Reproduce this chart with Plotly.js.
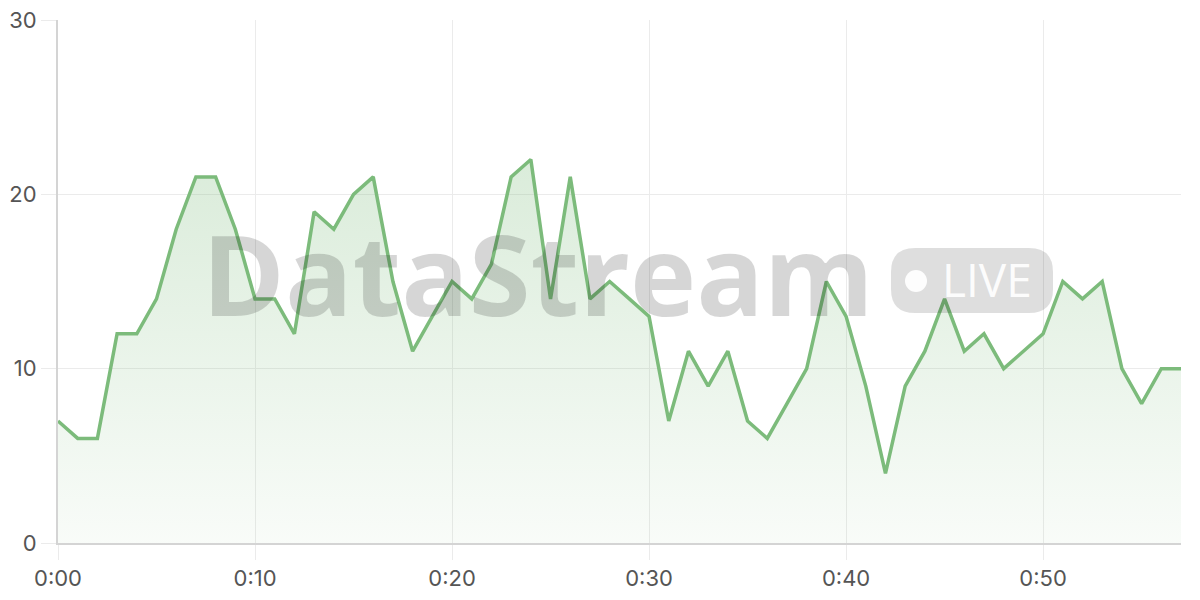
<!DOCTYPE html>
<html><head><meta charset="utf-8">
<script src="https://cdn.plot.ly/plotly-3.0.1.min.js"></script>
<style>html,body{margin:0;padding:0;background:#fff}#chart{width:1200px;height:600px}</style>
</head><body><div id="chart"></div>
<script>
const minutes = [0,1,2,3,4,5,6,7,8,9,10,11,12,13,14,15,16,17,18,19,20,21,22,23,24,25,26,27,28,29,30,31,32,33,34,35,36,37,38,39,40,41,42,43,44,45,46,47,48,49,50,51,52,53,54,55,56,57];
const values = [7,6,6,12,12,14,18,21,21,18,14,14,12,19,18,20,21,15,11,13,15,14,16,21,22,14,21,14,15,14,13,7,11,9,11,7,6,8,10,15,13,9,4,9,11,14,11,12,10,11,12,15,14,15,10,8,10,10];
const tickVals = [0,10,20,30,40,50];
const tickText = ["0:00","0:10","0:20","0:30","0:40","0:50"];
const watermark = "DataStream";
const badge = "LIVE";

// pixel -> paper helpers for the decorative watermark
const PL = 58, PW = 1123, PB = 543, PH = 523;
const px = v => (v - PL) / PW;
const py = v => (PB - v) / PH;
function roundRect(x0, y0, x1, y1, r) {
  const X = px, Y = py;
  return `M ${X(x0 + r)} ${Y(y0)} L ${X(x1 - r)} ${Y(y0)} Q ${X(x1)} ${Y(y0)} ${X(x1)} ${Y(y0 + r)} ` +
         `L ${X(x1)} ${Y(y1 - r)} Q ${X(x1)} ${Y(y1)} ${X(x1 - r)} ${Y(y1)} ` +
         `L ${X(x0 + r)} ${Y(y1)} Q ${X(x0)} ${Y(y1)} ${X(x0)} ${Y(y1 - r)} ` +
         `L ${X(x0)} ${Y(y0 + r)} Q ${X(x0)} ${Y(y0)} ${X(x0 + r)} ${Y(y0)} Z`;
}

const trace = {
  x: minutes, y: values, type: 'scatter', mode: 'lines',
  line: {color: '#7cbb7b', width: 3.5},
  fill: 'tozeroy',
  fillgradient: {type: 'vertical', colorscale: [[0,'rgba(124,187,123,0.05)'],[1,'rgba(124,187,123,0.28)']]},
  hoverinfo: 'skip'
};

const layout = {
  width: 1200, height: 600,
  margin: {l: 58, r: 19, t: 20, b: 57},
  paper_bgcolor: '#fff', plot_bgcolor: '#fff',
  font: {family: 'Inter, "Open Sans", sans-serif', size: 22, color: '#555'},
  showlegend: false,
  xaxis: {
    range: [0, 57], tickvals: tickVals, ticktext: tickText,
    showgrid: true, gridcolor: '#ebebeb', gridwidth: 1,
    zeroline: false, showline: true, linecolor: '#d4d4d4', linewidth: 2,
    ticks: 'outside', ticklen: 15, tickcolor: '#ebebeb', tickwidth: 1,
    tickfont: {size: 22, color: '#555'}
  },
  yaxis: {
    range: [0, 30], tickvals: [0,10,20,30],
    showgrid: true, gridcolor: '#ebebeb', gridwidth: 1,
    zeroline: false, showline: true, linecolor: '#d4d4d4', linewidth: 2,
    ticks: 'outside', ticklen: 15, tickcolor: '#ebebeb', tickwidth: 1,
    tickfont: {size: 22, color: '#555'}
  },
  shapes: [
    {type: 'path', xref: 'paper', yref: 'paper', layer: 'above',
     path: roundRect(891, 248, 1053, 313, 24),
     fillcolor: 'rgba(0,0,0,0.13)', line: {width: 0}},
    {type: 'circle', xref: 'paper', yref: 'paper', layer: 'above',
     x0: px(905), x1: px(927), y0: py(292), y1: py(270),
     fillcolor: 'rgba(255,255,255,0.92)', line: {width: 0}}
  ],
  annotations: [
    {text: '<b>' + watermark + '</b>', xref: 'paper', yref: 'paper',
     x: px(538), y: py(272), xanchor: 'center', yanchor: 'middle', showarrow: false,
     font: {family: '"Open Sans", "Noto Sans", sans-serif', size: 112, color: 'rgba(0,0,0,0.16)'}},
    {text: badge, xref: 'paper', yref: 'paper',
     x: px(987), y: py(279), xanchor: 'center', yanchor: 'middle', showarrow: false,
     font: {family: '"Open Sans", "Noto Sans", sans-serif', size: 46, color: 'rgba(255,255,255,0.95)'}}
  ]
};

Plotly.newPlot('chart', [trace], layout, {displayModeBar: false, staticPlot: true});
</script></body></html>
